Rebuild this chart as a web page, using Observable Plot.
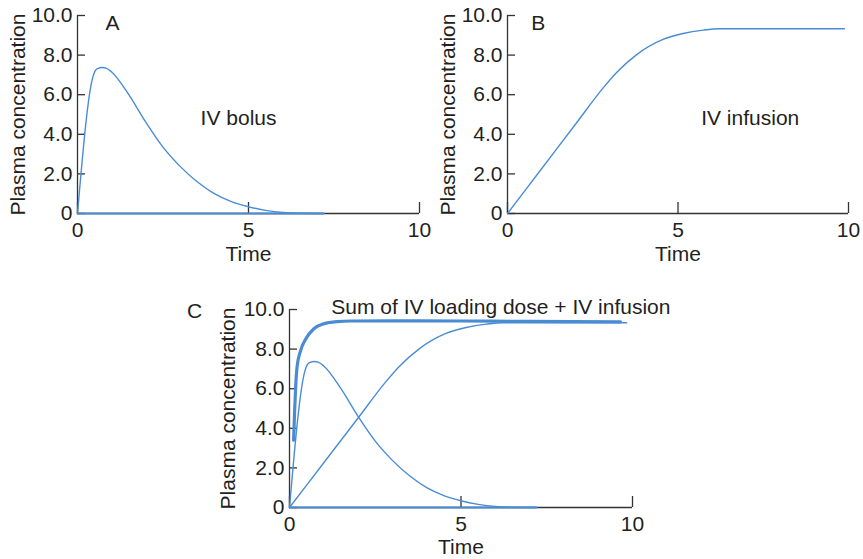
<!DOCTYPE html>
<html>
<head>
<meta charset="utf-8">
<script src="https://cdn.jsdelivr.net/npm/d3@7"></script>
<script src="https://cdn.jsdelivr.net/npm/@observablehq/plot@0.6"></script>
<style>
  html, body { margin: 0; padding: 0; background: #fff; }
  #chart { position: relative; width: 863px; height: 559px; overflow: hidden; }
  #chart svg { position: absolute; overflow: visible; }
</style>
</head>
<body>
<div id="chart"></div>
<script>
// ---- Data ----
// IV bolus curve (time, plasma concentration)
const bolusTime = [0, 0.45, 0.52, 0.6, 0.72, 0.85, 1.0, 1.5, 2.0, 2.5, 3.0, 3.5, 4.0, 4.5, 5.0, 5.5, 6.0, 6.5, 7.2];
const bolusConc = [0, 6.9, 7.22, 7.33, 7.37, 7.33, 7.15, 6.0, 4.6, 3.35, 2.38, 1.6, 1.0, 0.6, 0.34, 0.16, 0.05, 0.01, 0];
// baseline segment drawn along the time axis with the bolus curve
const baseTime = [0, 7.2];
const baseConc = [0, 0];
// IV infusion curve
const infusionTime = [0, 1.0, 2.0, 2.8, 3.2, 3.77, 4.56, 5.15, 5.74, 6.23, 9.88];
const infusionConc = [0, 2.26, 4.52, 6.33, 7.12, 8.0, 8.79, 9.09, 9.26, 9.33, 9.33];
// infusion in panel C ends slightly earlier
const infusionTimeC = [0, 1.0, 2.0, 2.8, 3.2, 3.77, 4.56, 5.15, 5.74, 6.23, 9.83];
// Sum of IV loading dose + IV infusion
const sumTime = [0.12, 0.15, 0.18, 0.22, 0.32, 0.47, 0.71, 1.0, 1.4, 1.8, 3.0, 5.0, 7.0, 9.65];
const sumConc = [3.4, 4.9, 6.1, 7.1, 7.9, 8.5, 9.03, 9.28, 9.39, 9.42, 9.43, 9.42, 9.4, 9.38];

const xTicks = [0, 5, 10];
const yTicks = [0, 2, 4, 6, 8, 10];
const yTickLabels = ["0", "2.0", "4.0", "6.0", "8.0", "10.0"];

// ---- Build tables ----
const toRows = (ts, cs) => ts.map((t, i) => ({t, c: cs[i]}));
const bolus = toRows(bolusTime, bolusConc);
const base = toRows(baseTime, baseConc);
const infusion = toRows(infusionTime, infusionConc);
const infusionC = toRows(infusionTimeC, infusionConc);
const sum = toRows(sumTime, sumConc);

const blue = "#4a8cd4";
const axisColor = "#333";
const textColor = "#231f20";

function panel({width, height, marginLeft, marginRight, marginTop, marginBottom, yLabelOffset, xLabelOffset, marks}) {
  return Plot.plot({
    width, height, marginLeft, marginRight, marginTop, marginBottom,
    style: {fontFamily: "'Liberation Sans', Arial, Helvetica, sans-serif", fontSize: "21px", color: textColor, background: "transparent", overflow: "visible"},
    x: {domain: [0, 10]},
    y: {domain: [0, 10]},
    marks: [
      Plot.ruleX([0], {stroke: axisColor, strokeWidth: 1.3}),
      Plot.ruleY([0], {stroke: axisColor, strokeWidth: 1.3}),
      Plot.axisX({ticks: xTicks, tickSize: -11, tickPadding: 20, stroke: axisColor, strokeWidth: 1.3, fill: textColor,
        label: "Time", labelAnchor: "center", labelOffset: xLabelOffset, labelArrow: "none"}),
      Plot.axisY({ticks: yTicks, tickSize: -8, tickPadding: 13, stroke: axisColor, strokeWidth: 1.3, fill: textColor,
        tickFormat: d => yTickLabels[yTicks.indexOf(d)],
        label: "Plasma concentration", labelAnchor: "center", labelOffset: yLabelOffset, labelArrow: "none"}),
      ...marks
    ]
  });
}

const thin = {x: "t", y: "c", stroke: blue, strokeWidth: 1.4, curve: "monotone-x"};

const A = panel({
  width: 430, height: 265, marginLeft: 77, marginRight: 11, marginTop: 15, marginBottom: 52,
  yLabelOffset: 67, xLabelOffset: 47,
  marks: [
    Plot.line(base, {x: "t", y: "c", stroke: blue, strokeWidth: 2}),
    Plot.line(bolus, thin),
    Plot.text(["A"], {x: 1.02, y: 9.62, fill: textColor}),
    Plot.text(["IV bolus"], {x: 3.6, y: 4.8, textAnchor: "start", fill: textColor})
  ]
});
A.style.left = "0px"; A.style.top = "0px";

const B = panel({
  width: 433, height: 265, marginLeft: 77, marginRight: 15, marginTop: 15, marginBottom: 52,
  yLabelOffset: 67, xLabelOffset: 47,
  marks: [
    Plot.line(infusion, thin),
    Plot.text(["B"], {x: 0.9, y: 9.62, fill: textColor}),
    Plot.text(["IV infusion"], {x: 5.68, y: 4.8, textAnchor: "start", fill: textColor})
  ]
});
B.style.left = "430px"; B.style.top = "0px";

const C = panel({
  width: 500, height: 279, marginLeft: 109, marginRight: 48, marginTop: 29, marginBottom: 52,
  yLabelOffset: 69, xLabelOffset: 46,
  marks: [
    Plot.line(base, {x: "t", y: "c", stroke: blue, strokeWidth: 2}),
    Plot.line(bolus, thin),
    Plot.line(infusionC, thin),
    Plot.line(sum, {x: "t", y: "c", stroke: blue, strokeWidth: 3.2, curve: "monotone-x"}),
    Plot.text(["C"], {x: -2.77, y: 9.9, fill: textColor}),
    Plot.text(["Sum of IV loading dose + IV infusion"], {x: 1.22, y: 10.1, textAnchor: "start", fill: textColor})
  ]
});
C.style.left = "180px"; C.style.top = "280px";

const chart = document.getElementById("chart");
chart.append(A, B, C);
</script>
</body>
</html>
